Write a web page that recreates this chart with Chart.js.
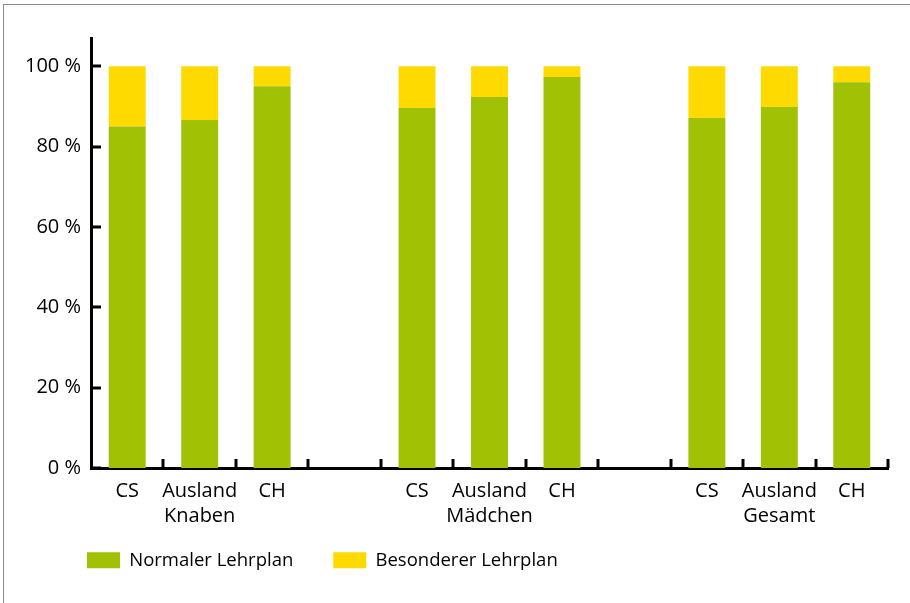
<!DOCTYPE html>
<html>
<head>
<meta charset="utf-8">
<script src="https://cdn.jsdelivr.net/npm/chart.js@4/dist/chart.umd.min.js"></script>
<style>
html,body{margin:0;padding:0;background:#fff;}
#wrap{position:relative;width:910px;height:603px;}
#frame{position:absolute;left:3px;top:4px;right:0;bottom:0;border-top:1px solid #8c8c8c;border-left:1px solid #8c8c8c;pointer-events:none;}
canvas{display:block;}
</style>
</head>
<body>
<div id="wrap"><canvas id="c" width="910" height="603"></canvas><div id="frame"></div></div>
<script>
const categories = ['CS', 'Ausland', 'CH'];
const groups = ['Knaben', 'Mädchen', 'Gesamt'];
const normalerLehrplan = [85.0, 86.6, 95.0, null, 89.6, 92.3, 97.3, null, 87.1, 89.8, 96.0];
const besondererLehrplan = [15.0, 13.4, 5.0, null, 10.4, 7.7, 2.7, null, 12.9, 10.2, 4.0];
const yTicks = [0, 20, 40, 60, 80, 100];
const seriesNames = ['Normaler Lehrplan', 'Besonderer Lehrplan'];

const labels = [];
groups.forEach((g, gi) => {
  categories.forEach((c, ci) => labels.push(ci === 1 ? [c, g] : c));
  if (gi < groups.length - 1) labels.push('');
});

const FONT = "'Open Sans', sans-serif";
const LEGEND_GAP = 40;
const LEGEND_HEIGHT = 63;
const LEGEND_LEFT = 47;
const LEGEND_TOP = 511;

const legendFix = {
  id: 'legendFix',
  beforeInit(chart) {
    const lg = chart.legend;
    if (lg && !lg._fixed) {
      const orig = lg.fit.bind(lg);
      lg.fit = function () { orig(); this.height = LEGEND_HEIGHT; };
      lg._fixed = true;
    }
  },
  afterLayout(chart) {
    const lg = chart.legend;
    if (!lg) return;
    const w = lg.right - lg.left;
    lg.left = LEGEND_LEFT;
    lg.right = LEGEND_LEFT + w;
    lg.top = LEGEND_TOP;
    lg.bottom = LEGEND_TOP + LEGEND_HEIGHT;
    if (typeof lg.adjustHitBoxes === 'function') lg.adjustHitBoxes();
  }
};

const innerTicks = {
  id: 'innerTicks',
  afterDraw(chart) {
    const ctx = chart.ctx;
    const x = chart.scales.x, y = chart.scales.y;
    const area = chart.chartArea;
    ctx.save();
    ctx.strokeStyle = '#000';
    ctx.lineWidth = 3;
    y.ticks.forEach(t => {
      const py = Math.round(y.getPixelForValue(t.value));
      ctx.beginPath();
      ctx.moveTo(area.left, py);
      ctx.lineTo(area.left + 10, py);
      ctx.stroke();
    });
    const n = labels.length;
    const w = (x.getPixelForValue(1) - x.getPixelForValue(0));
    for (let i = 1; i <= n; i++) {
      const px = Math.round(x.getPixelForValue(i) - w / 2);
      ctx.beginPath();
      ctx.moveTo(px, area.bottom);
      ctx.lineTo(px, area.bottom - 9);
      ctx.stroke();
    }
    ctx.restore();
  }
};

new Chart(document.getElementById('c'), {
  type: 'bar',
  data: {
    labels: labels,
    datasets: [
      { label: seriesNames[0], data: normalerLehrplan, backgroundColor: '#A1C204', borderWidth: 0 },
      { label: seriesNames[1], data: besondererLehrplan, backgroundColor: '#FFDA00', borderWidth: 0 }
    ]
  },
  options: {
    responsive: false,
    animation: false,
    devicePixelRatio: 1,
    layout: { padding: { top: 38, right: 22, left: 0, bottom: 0 } },
    datasets: { bar: { barPercentage: 1, categoryPercentage: 0.51 } },
    plugins: {
      tooltip: { enabled: false },
      legend: {
        position: 'bottom',
        align: 'start',
        labels: {
          boxWidth: 33, boxHeight: 16, padding: LEGEND_GAP,
          color: '#000',
          font: { family: FONT, size: 18.5 }
        }
      }
    },
    scales: {
      x: {
        stacked: true,
        offset: true,
        grid: { display: false, drawTicks: false },
        border: { display: true, color: '#000', width: 3 },
        ticks: {
          autoSkip: false, maxRotation: 0, minRotation: 0, padding: 11,
          color: '#000',
          font: { family: FONT, size: 20, lineHeight: 1.25 }
        },
        afterFit(s) { s.height = 72; }
      },
      y: {
        stacked: true,
        min: 0, max: 107,
        afterBuildTicks(s) { s.ticks = yTicks.map(v => ({ value: v })); },
        grid: { display: false, drawTicks: false },
        border: { display: true, color: '#000', width: 3 },
        ticks: {
          padding: 10,
          color: '#000',
          font: { family: FONT, size: 20 },
          callback: v => v + ' %'
        },
        afterFit(s) { s.width = 91; }
      }
    }
  },
  plugins: [legendFix, innerTicks]
});
</script>
</body>
</html>
